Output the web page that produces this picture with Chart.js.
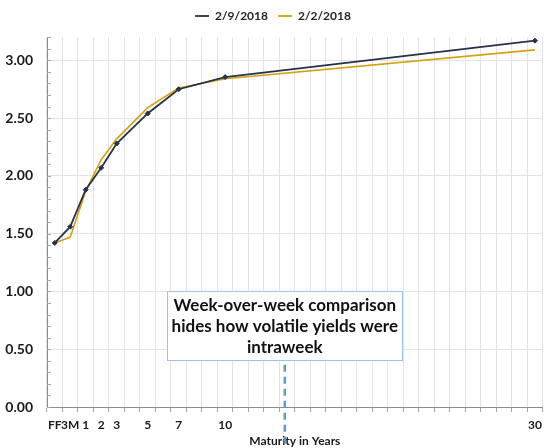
<!DOCTYPE html>
<html>
<head>
<meta charset="utf-8">
<script src="https://cdn.jsdelivr.net/npm/chart.js@4.4.1/dist/chart.umd.min.js"></script>
<style>
  html, body { margin: 0; padding: 0; background: #fff; }
  #wrap { width: 548px; height: 448px; }
</style>
</head>
<body>
<div id="wrap"><canvas id="yieldChart"></canvas></div>
<script>
// maturities that carry a quote, and the yields
const maturities = ['FF', '3M', '1', '2', '3', '5', '7', '10', '30'];
const yields0209 = [1.42, 1.56, 1.88, 2.07, 2.28, 2.54, 2.75, 2.855, 3.17];
const yields0202 = [1.42, 1.47, 1.87, 2.14, 2.32, 2.59, 2.76, 2.84, 3.09];
const seriesNames = ['2/9/2018', '2/2/2018'];
const seriesColors = ['#26324a', '#d6a10e'];

// the axis has one slot per year (FF and 3M in front), like the original
const axisSlots = ['FF', '3M'].concat(Array.from({ length: 30 }, (_, i) => String(i + 1)));

const noteLines = ['Week-over-week comparison', 'hides how volatile yields were', 'intraweek'];
const noteSlot = 14.85;   // slot index where the callout sits
const noteTop = 1.0;
const noteBottom = 0.4;

const FONT = 'Lato, "Open Sans", sans-serif';

const toPoints = vals => maturities.map((m, i) => ({ x: m, y: vals[i] }));
const isHalf = v => Math.abs(v * 2 - Math.round(v * 2)) < 1e-6;

// short tick marks on the inner side of the y axis, every 0.1
const innerTicks = {
    id: 'innerTicks',
    afterDraw(chart) {
        const { ctx, chartArea, scales: { y } } = chart;
        ctx.save();
        ctx.strokeStyle = '#a6a6a6';
        ctx.lineWidth = 1;
        y.ticks.forEach(t => {
            const py = Math.round(y.getPixelForValue(t.value)) + 0.5;
            ctx.beginPath();
            ctx.moveTo(chartArea.left, py);
            ctx.lineTo(chartArea.left + 4, py);
            ctx.stroke();
        });
        ctx.restore();
    }
};

// callout box with dashed pointer
const callout = {
    id: 'callout',
    afterDraw(chart) {
        const { ctx, scales: { x, y } } = chart;
        const cx = x.getPixelForValue(noteSlot);
        const top = y.getPixelForValue(noteTop);
        const bottom = y.getPixelForValue(noteBottom);
        const w = 235;
        ctx.save();
        ctx.strokeStyle = '#5b9bd5';
        ctx.lineWidth = 2.5;
        ctx.setLineDash([7, 5]);
        ctx.beginPath();
        ctx.moveTo(cx, bottom + 4);
        ctx.lineTo(cx, chart.height);
        ctx.stroke();
        ctx.setLineDash([]);
        ctx.fillStyle = '#fff';
        ctx.fillRect(cx - w / 2, top, w, bottom - top);
        ctx.strokeStyle = '#9dc3e6';
        ctx.lineWidth = 1;
        ctx.strokeRect(Math.round(cx - w / 2) + 0.5, Math.round(top) + 0.5, w, Math.round(bottom - top));
        ctx.fillStyle = '#111';
        ctx.font = 'bold 17px ' + FONT;
        ctx.textAlign = 'center';
        ctx.textBaseline = 'middle';
        const lh = 21;
        const mid = (top + bottom) / 2;
        noteLines.forEach((line, i) => {
            ctx.fillText(line, cx, mid + (i - (noteLines.length - 1) / 2) * lh);
        });
        ctx.restore();
    }
};

const ctx = document.getElementById('yieldChart').getContext('2d');
new Chart(ctx, {
    type: 'line',
    data: {
        labels: axisSlots,
        datasets: [
            {
                label: seriesNames[0],
                data: toPoints(yields0209),
                borderColor: seriesColors[0],
                backgroundColor: seriesColors[0],
                borderWidth: 1.8,
                pointStyle: 'rectRot',
                pointRadius: 2.5,
                pointBorderWidth: 1,
                pointBorderColor: seriesColors[0],
                tension: 0
            },
            {
                label: seriesNames[1],
                data: toPoints(yields0202),
                borderColor: seriesColors[1],
                backgroundColor: seriesColors[1],
                borderWidth: 1.6,
                pointRadius: 0,
                tension: 0
            }
        ]
    },
    options: {
        responsive: true,
        maintainAspectRatio: false,
        animation: false,
        layout: { padding: { top: 0, right: 2, left: 0, bottom: 0 } },
        plugins: {
            legend: {
                position: 'top',
                labels: {
                    usePointStyle: true,
                    pointStyle: 'line',
                    pointStyleWidth: 14,
                    boxHeight: 12,
                    padding: 10,
                    color: '#262626',
                    font: { family: FONT, size: 12, weight: 'bold' },
                    generateLabels: chart => {
                        const items = Chart.defaults.plugins.legend.labels.generateLabels(chart);
                        items.forEach(it => {
                            it.lineWidth = 1.8;
                            it.strokeStyle = seriesColors[it.datasetIndex];
                        });
                        return items;
                    }
                }
            },
            // empty title used only as a spacer between legend and plot
            title: {
                display: true,
                text: ' ',
                weight: 500,
                font: { size: 1 },
                padding: { top: 0, bottom: 4 }
            },
            tooltip: { enabled: false }
        },
        scales: {
            x: {
                type: 'category',
                offset: true,
                grid: {
                    offset: true,
                    color: '#e3e3e3',
                    tickColor: '#a6a6a6',
                    tickLength: 5,
                    drawTicks: true
                },
                border: { color: '#8c8c8c' },
                ticks: {
                    autoSkip: false,
                    maxRotation: 0,
                    padding: 6,
                    color: '#1a1a1a',
                    font: { family: FONT, size: 12, weight: 'bold' },
                    callback: (v, i) => maturities.includes(axisSlots[i]) ? axisSlots[i] : ''
                },
                title: {
                    display: true,
                    text: 'Maturity in Years',
                    color: '#1a1a1a',
                    padding: { top: 0, bottom: 0 },
                    font: { family: FONT, size: 12, weight: 'bold' }
                },
                afterFit: scale => { scale.height = 41; }
            },
            y: {
                min: 0,
                max: 3.2,
                grid: {
                    drawTicks: false,
                    color: c => isHalf(c.tick.value) ? '#e3e3e3' : 'rgba(0,0,0,0)'
                },
                border: { color: '#8c8c8c' },
                ticks: {
                    stepSize: 0.1,
                    autoSkip: false,
                    padding: 14,
                    color: '#1a1a1a',
                    font: { family: FONT, size: 14, weight: 'bold' },
                    callback: v => isHalf(v) ? v.toFixed(2) : ''
                },
                afterFit: scale => { scale.width = 47; }
            }
        }
    },
    plugins: [innerTicks, callout]
});
</script>
</body>
</html>
